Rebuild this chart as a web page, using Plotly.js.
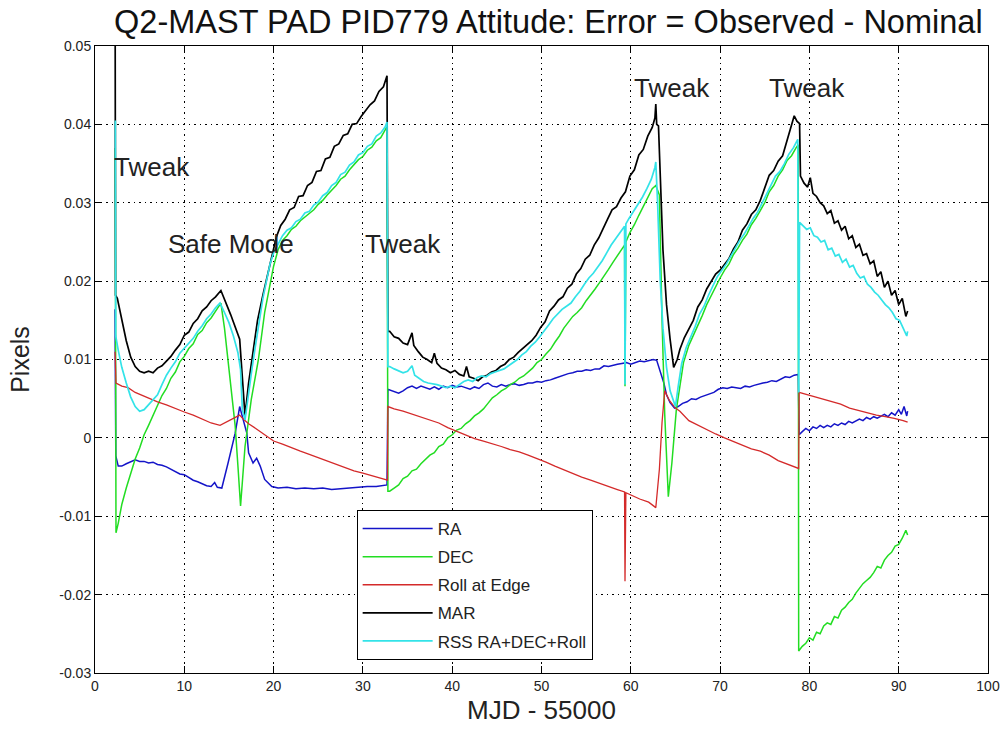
<!DOCTYPE html>
<html>
<head>
<meta charset="utf-8">
<script src="https://cdn.plot.ly/plotly-3.0.1.min.js"></script>
<style>html,body{margin:0;padding:0;background:#fff;}#chart{width:1008px;height:736px;}</style>
</head>
<body>
<div id="chart"></div>
<script>
// ---- data (MJD - 55000, pixels) ----
const seriesNames = ['RA', 'DEC', 'Roll at Edge', 'MAR', 'RSS RA+DEC+Roll'];

const raData = [[2.24,0.0164],[2.33,-0.0023],[2.6,-0.0036],[3.0,-0.0036],[3.5,-0.0033],[4.0,-0.0030],[4.5,-0.0028],[5.0,-0.0030],[5.5,-0.0030],[6.0,-0.0032],[6.5,-0.0031],[7.0,-0.0034],[7.5,-0.0035],[8.0,-0.0037],[8.5,-0.0040],[9.0,-0.0042],[9.5,-0.0046],[10.0,-0.0047],[10.5,-0.0051],[11.0,-0.0054],[11.5,-0.0056],[12.0,-0.0059],[12.5,-0.0061],[13.0,-0.0062],[13.4,-0.0057],[13.7,-0.0063],[14.2,-0.0064],[14.9,-0.0032],[15.7,0.0006],[16.2,0.0040],[16.6,0.0023],[17.0,0.0006],[17.2,-0.0019],[17.7,-0.0032],[18.1,-0.0026],[18.5,-0.0036],[19.0,-0.0053],[19.8,-0.0062],[20.5,-0.0064],[21.5,-0.0063],[22.5,-0.0065],[23.5,-0.0064],[24.5,-0.0065],[25.5,-0.0064],[26.5,-0.0066],[27.5,-0.0065],[28.5,-0.0064],[29.5,-0.0063],[30.5,-0.0062],[31.5,-0.0062],[32.7,-0.0060],[32.8,0.0062],
[33.2,0.0060],[33.6,0.0058],[34.0,0.0057],[34.5,0.0060],[35.0,0.0064],[35.5,0.0066],[36.0,0.0063],[36.5,0.0066],[37.0,0.0064],[37.5,0.0062],[38.0,0.0065],[38.5,0.0062],[39.0,0.0066],[39.5,0.0064],[40.0,0.0067],[40.5,0.0065],[41.0,0.0066],[41.5,0.0064],[42.0,0.0062],[42.5,0.0065],[43.0,0.0063],[43.5,0.0068],[44.0,0.0070],[44.5,0.0066],[45.0,0.0065],[45.5,0.0068],[46.0,0.0066],[46.5,0.0068],[47.0,0.0069],[47.5,0.0067],[48.0,0.0068],[48.5,0.0070],[49.0,0.0070],[49.5,0.0072],[50.0,0.0071],[50.5,0.0073],[51.0,0.0074],[51.5,0.0076],[52.0,0.0078],[52.5,0.0080],[53.0,0.0082],[53.5,0.0083],[54.0,0.0085],[54.5,0.0085],[55.0,0.0087],[55.5,0.0086],[56.0,0.0088],[56.5,0.0088],[57.0,0.0092],[57.5,0.0091],[58.0,0.0093],[58.5,0.0094],[59.0,0.0095],[59.5,0.0096],[60.0,0.0094],[60.5,0.0096],[61.0,0.0098],[61.5,0.0097],[62.0,0.0099],[62.5,0.0100],[62.9,0.0099],[63.3,0.0085],[63.7,0.0070],[64.0,0.0055],[64.4,0.0045],[64.9,0.0038],[65.3,0.0040],[65.8,0.0044],[66.3,0.0046],[66.8,0.0050],[67.3,0.0049],[67.8,0.0052],[68.3,0.0054],[68.8,0.0056],[69.3,0.0058],[69.8,0.0062],[70.3,0.0064],[70.8,0.0063],[71.3,0.0065],[71.8,0.0064],[72.3,0.0063],[72.8,0.0066],[73.3,0.0065],[73.8,0.0067],[74.3,0.0069],[74.8,0.0070],[75.3,0.0071],[75.8,0.0073],[76.3,0.0072],[76.8,0.0075],[77.3,0.0078],[77.8,0.0077],[78.3,0.0080],[78.75,0.0081],[78.85,0.0004],[79.2,0.0008],[79.6,0.0012],[80.0,0.0009],[80.4,0.0014],[80.8,0.0012],[81.2,0.0016],[81.6,0.0013],[82.0,0.0016],[82.4,0.0014],[82.8,0.0018],[83.2,0.0016],[83.6,0.0019],[84.0,0.0017],[84.4,0.0021],[84.8,0.0019],[85.2,0.0022],[85.6,0.0024],[86.0,0.0022],[86.4,0.0026],[86.8,0.0024],[87.2,0.0027],[87.6,0.0025],[88.0,0.0028],[88.4,0.0030],[88.8,0.0027],[89.2,0.0032],[89.6,0.0029],[90.0,0.0036],[90.3,0.0030],[90.6,0.0040],[90.9,0.0028],[91.0,0.0034]];

const decData = [[2.27,0.0370],[2.35,-0.0121],[2.6,-0.0109],[3.0,-0.0085],[3.5,-0.0064],[4.0,-0.0046],[4.5,-0.0027],[5.0,-0.0013],[5.5,0.0004],[6.0,0.0016],[6.5,0.0029],[7.0,0.0041],[7.5,0.0054],[8.0,0.0063],[8.5,0.0076],[9.0,0.0084],[9.5,0.0097],[10.0,0.0104],[10.5,0.0114],[11.0,0.0120],[11.5,0.0132],[12.0,0.0137],[12.5,0.0147],[13.0,0.0153],[13.5,0.0162],[14.1,0.0172],[14.5,0.0140],[14.9,0.0100],[15.3,0.0060],[15.7,0.0015],[16.0,-0.0035],[16.3,-0.0087],[16.8,-0.0011],[17.5,0.0049],[18.3,0.0100],[19.0,0.0160],[20.0,0.0219],[20.5,0.0240],[21.0,0.0252],[21.5,0.0258],[22.0,0.0266],[22.5,0.0270],[23.0,0.0277],[23.5,0.0282],[24.0,0.0287],[24.5,0.0291],[25.0,0.0298],[25.5,0.0303],[26.0,0.0310],[26.5,0.0316],[27.0,0.0322],[27.5,0.0330],[28.0,0.0334],[28.5,0.0342],[29.0,0.0348],[29.5,0.0355],[30.0,0.0359],[30.5,0.0367],[31.0,0.0371],[31.5,0.0379],[32.0,0.0383],[32.5,0.0392],[32.7,0.0397],[32.8,-0.0068],
[33.0,-0.0068],[33.5,-0.0064],[34.0,-0.0060],[34.5,-0.0052],[35.0,-0.0049],[35.5,-0.0042],[36.0,-0.0040],[36.5,-0.0033],[37.0,-0.0028],[37.5,-0.0022],[38.0,-0.0019],[38.5,-0.0011],[39.0,-0.0008],[39.5,0.0000],[40.0,0.0004],[40.5,0.0010],[41.0,0.0012],[41.5,0.0018],[42.0,0.0022],[42.5,0.0028],[43.0,0.0032],[43.5,0.0037],[44.0,0.0044],[44.5,0.0051],[45.0,0.0055],[45.5,0.0060],[46.0,0.0063],[46.5,0.0068],[47.0,0.0071],[47.5,0.0076],[48.0,0.0079],[48.5,0.0084],[49.0,0.0089],[49.5,0.0096],[50.0,0.0100],[50.5,0.0107],[51.0,0.0113],[51.5,0.0122],[52.0,0.0130],[52.5,0.0140],[53.0,0.0148],[53.5,0.0155],[54.0,0.0160],[54.5,0.0166],[55.0,0.0175],[55.5,0.0182],[56.0,0.0190],[56.5,0.0198],[57.0,0.0206],[57.5,0.0215],[58.0,0.0224],[58.5,0.0232],[59.0,0.0240],[59.3,0.0246],[59.35,0.0066],[59.45,0.0250],[59.9,0.0262],[60.4,0.0272],[60.9,0.0284],[61.4,0.0296],[61.9,0.0306],[62.4,0.0318],[62.8,0.0322],[63.2,0.0310],[63.5,0.0150],[63.8,0.0030],[64.2,-0.0075],[64.6,-0.0032],[65.1,0.0036],[65.9,0.0096],[66.5,0.0118],[67.0,0.0130],[67.5,0.0142],[68.0,0.0156],[68.5,0.0170],[69.0,0.0182],[69.5,0.0194],[70.0,0.0204],[70.5,0.0214],[71.0,0.0222],[71.5,0.0234],[72.0,0.0242],[72.5,0.0252],[73.0,0.0260],[73.5,0.0272],[74.0,0.0280],[74.5,0.0290],[75.0,0.0300],[75.5,0.0314],[76.0,0.0322],[76.5,0.0334],[77.0,0.0342],[77.5,0.0354],[78.0,0.0360],[78.5,0.0370],[78.75,0.0374],[78.8,-0.0272],[79.2,-0.0266],[79.6,-0.0262],[80.0,-0.0255],[80.4,-0.0258],[80.8,-0.0248],[81.2,-0.0250],[81.6,-0.0240],[82.0,-0.0236],[82.4,-0.0238],[82.8,-0.0228],[83.2,-0.0230],[83.6,-0.0220],[84.0,-0.0216],[84.4,-0.0210],[84.8,-0.0206],[85.2,-0.0198],[85.6,-0.0192],[86.0,-0.0186],[86.4,-0.0182],[86.8,-0.0178],[87.2,-0.0172],[87.6,-0.0164],[88.0,-0.0166],[88.4,-0.0156],[88.8,-0.0150],[89.2,-0.0146],[89.6,-0.0138],[90.0,-0.0136],[90.4,-0.0128],[90.8,-0.0118],[91.0,-0.0124]];

const rollData = [[2.25,0.0110],[2.35,0.0070],[3.0,0.0066],[3.7,0.0064],[4.5,0.0058],[5.5,0.0053],[6.3,0.0049],[7.0,0.0046],[8.0,0.0042],[9.0,0.0038],[10.0,0.0033],[11.0,0.0029],[12.0,0.0024],[13.0,0.0019],[14.0,0.0016],[14.9,0.0021],[15.6,0.0025],[16.2,0.0029],[16.6,0.0024],[17.2,0.0018],[18.0,0.0012],[19.0,0.0004],[20.0,-0.0004],[21.0,-0.0008],[22.0,-0.0013],[23.0,-0.0017],[24.0,-0.0021],[25.0,-0.0025],[26.0,-0.0030],[27.0,-0.0034],[28.0,-0.0038],[29.0,-0.0042],[30.0,-0.0045],[31.0,-0.0048],[32.0,-0.0051],[32.75,-0.0054],[32.8,0.0040],[33.5,0.0037],[34.5,0.0034],[35.5,0.0030],[36.5,0.0027],[37.5,0.0023],[38.5,0.0019],[39.5,0.0013],[40.5,0.0008],[41.5,0.0004],[42.5,-0.0001],[43.5,-0.0004],[44.5,-0.0008],[45.5,-0.0011],[46.5,-0.0015],[47.5,-0.0018],[48.5,-0.0022],[49.5,-0.0026],[50.5,-0.0031],[51.5,-0.0036],[52.5,-0.0041],[53.5,-0.0046],[54.5,-0.0050],[55.5,-0.0054],[56.5,-0.0058],[57.5,-0.0063],[58.5,-0.0066],[59.3,-0.0069],[59.35,-0.0183],[59.45,-0.0070],[60.0,-0.0073],[61.0,-0.0078],[62.0,-0.0082],[62.8,-0.0089],[63.2,-0.0040],[63.5,0.0020],[63.8,0.0060],[64.3,0.0048],[65.0,0.0038],[65.5,0.0034],[66.5,0.0022],[67.5,0.0016],[68.5,0.0011],[69.5,0.0005],[70.5,0.0000],[71.5,-0.0005],[72.5,-0.0010],[73.5,-0.0014],[74.5,-0.0017],[75.5,-0.0022],[76.5,-0.0029],[77.5,-0.0033],[78.5,-0.0037],[78.8,-0.0039],[78.85,0.0058],[79.5,0.0056],[80.5,0.0053],[81.5,0.0049],[82.5,0.0046],[83.5,0.0043],[84.5,0.0038],[85.5,0.0035],[86.5,0.0032],[87.5,0.0029],[88.5,0.0027],[89.5,0.0025],[90.5,0.0022],[91.0,0.0020]];

const marData = [[2.25,0.060],[2.3,0.0182],[2.5,0.0178],[3.0,0.0152],[3.5,0.0124],[4.0,0.0103],[4.5,0.0091],[5.0,0.0085],[5.5,0.0083],[6.0,0.0085],[6.5,0.0083],[7.0,0.0089],[7.5,0.0092],[8.0,0.0098],[8.5,0.0104],[9.0,0.0112],[9.5,0.0119],[10.0,0.0131],[10.5,0.0135],[11.0,0.0146],[11.5,0.0152],[12.0,0.0162],[12.5,0.0167],[13.0,0.0175],[13.5,0.0180],[14.1,0.0188],[15.2,0.0157],[16.2,0.0126],[16.5,0.0070],[16.8,0.0028],[17.2,0.0070],[17.7,0.0110],[18.2,0.0150],[18.8,0.0182],[19.3,0.0208],[19.8,0.0232],[20.3,0.0256],[20.8,0.0271],[21.3,0.0279],[21.8,0.0291],[22.3,0.0294],[22.8,0.0308],[23.3,0.0309],[23.8,0.0322],[24.3,0.0326],[24.8,0.0340],[25.3,0.0341],[25.8,0.0356],[26.3,0.0358],[26.8,0.0372],[27.3,0.0375],[27.8,0.0386],[28.3,0.0388],[28.8,0.0400],[29.3,0.0401],[29.8,0.0410],[30.3,0.0418],[30.8,0.0425],[31.3,0.0430],[31.8,0.0442],[32.3,0.0448],[32.7,0.0462],[32.8,0.0136],
[33.0,0.0136],[33.5,0.0129],[34.0,0.0127],[34.5,0.0121],[35.0,0.0119],[35.5,0.0134],[35.7,0.0118],[36.2,0.0110],[36.7,0.0103],[37.2,0.0100],[37.7,0.0096],[38.0,0.0108],[38.3,0.0095],[38.8,0.0089],[39.3,0.0087],[39.8,0.0083],[40.3,0.0086],[40.8,0.0081],[41.3,0.0079],[41.6,0.0091],[41.9,0.0078],[42.4,0.0076],[42.9,0.0073],[43.4,0.0078],[43.9,0.0080],[44.4,0.0084],[44.9,0.0086],[45.4,0.0091],[45.9,0.0094],[46.4,0.0100],[46.9,0.0103],[47.4,0.0109],[47.9,0.0114],[48.4,0.0120],[48.9,0.0124],[49.4,0.0131],[49.9,0.0141],[50.4,0.0148],[50.9,0.0162],[51.4,0.0168],[51.9,0.0176],[52.4,0.0180],[52.9,0.0191],[53.4,0.0196],[53.9,0.0209],[54.4,0.0216],[54.9,0.0228],[55.4,0.0233],[55.9,0.0246],[56.4,0.0255],[56.9,0.0268],[57.4,0.0279],[57.9,0.0291],[58.4,0.0295],[58.9,0.0306],[59.4,0.0314],[59.9,0.0334],[60.4,0.0342],[60.9,0.0361],[61.4,0.0368],[61.9,0.0385],[62.4,0.0396],[62.7,0.0408],[62.8,0.0426],[62.9,0.0400],[63.1,0.0398],[63.6,0.0240],[64.0,0.0170],[64.4,0.0126],[64.8,0.0090],[65.2,0.0100],[65.5,0.0113],[66.0,0.0128],[66.5,0.0139],[67.0,0.0150],[67.5,0.0167],[68.0,0.0176],[68.5,0.0190],[69.0,0.0200],[69.5,0.0209],[70.0,0.0214],[70.5,0.0221],[71.0,0.0229],[71.5,0.0241],[72.0,0.0250],[72.5,0.0265],[73.0,0.0273],[73.5,0.0285],[74.0,0.0291],[74.5,0.0303],[75.0,0.0318],[75.5,0.0335],[76.0,0.0341],[76.5,0.0353],[77.0,0.0360],[77.5,0.0379],[77.9,0.0393],[78.3,0.0411],[78.6,0.0404],[78.9,0.0401],[79.0,0.0334],[79.4,0.0325],[79.8,0.0320],[80.1,0.0332],[80.4,0.0312],[80.8,0.0308],[81.2,0.0300],[81.6,0.0296],[82.0,0.0286],[82.4,0.0290],[82.8,0.0274],[83.2,0.0277],[83.6,0.0265],[84.0,0.0270],[84.4,0.0254],[84.8,0.0258],[85.2,0.0243],[85.6,0.0247],[86.0,0.0233],[86.4,0.0235],[86.8,0.0222],[87.2,0.0226],[87.6,0.0206],[88.0,0.0212],[88.4,0.0192],[88.8,0.0200],[89.2,0.0182],[89.6,0.0188],[90.0,0.0170],[90.4,0.0178],[90.8,0.0155],[91.0,0.0162]];

const rssData = [[2.28,0.0405],[2.32,0.0130],[2.6,0.0112],[3.0,0.0090],[3.5,0.0070],[4.0,0.0052],[4.5,0.0040],[5.0,0.0034],[5.5,0.0036],[6.0,0.0042],[6.5,0.0048],[7.0,0.0055],[7.5,0.0068],[8.0,0.0080],[8.5,0.0089],[9.0,0.0097],[9.5,0.0108],[10.0,0.0114],[10.5,0.0121],[11.0,0.0127],[11.5,0.0136],[12.0,0.0143],[12.5,0.0152],[13.0,0.0158],[13.5,0.0166],[14.0,0.0172],[14.5,0.0160],[15.0,0.0147],[15.5,0.0130],[16.0,0.0109],[16.3,0.0087],[16.5,0.0036],[16.8,0.0023],[17.2,0.0060],[17.6,0.0090],[18.0,0.0120],[18.4,0.0150],[18.8,0.0178],[19.2,0.0200],[19.6,0.0222],[20.0,0.0236],[20.5,0.0248],[21.0,0.0258],[21.5,0.0265],[22.0,0.0268],[22.5,0.0276],[23.0,0.0279],[23.5,0.0287],[24.0,0.0289],[24.5,0.0297],[25.0,0.0301],[25.5,0.0309],[26.0,0.0313],[26.5,0.0322],[27.0,0.0326],[27.5,0.0336],[28.0,0.0339],[28.5,0.0348],[29.0,0.0352],[29.5,0.0361],[30.0,0.0364],[30.5,0.0372],[31.0,0.0375],[31.5,0.0385],[32.0,0.0389],[32.5,0.0397],[32.7,0.0403],[32.8,0.0091],
[33.0,0.0091],[33.5,0.0088],[34.0,0.0086],[34.5,0.0083],[35.0,0.0085],[35.5,0.0092],[35.8,0.0080],[36.3,0.0076],[36.8,0.0072],[37.3,0.0070],[37.8,0.0069],[38.3,0.0068],[38.8,0.0066],[39.3,0.0064],[39.8,0.0066],[40.3,0.0064],[40.8,0.0068],[41.3,0.0072],[41.8,0.0074],[42.3,0.0072],[42.8,0.0077],[43.3,0.0079],[43.8,0.0078],[44.3,0.0082],[44.8,0.0084],[45.3,0.0086],[45.8,0.0088],[46.3,0.0092],[46.8,0.0096],[47.3,0.0100],[47.8,0.0106],[48.3,0.0110],[48.8,0.0117],[49.3,0.0122],[49.8,0.0129],[50.3,0.0136],[50.8,0.0144],[51.3,0.0152],[51.8,0.0158],[52.3,0.0164],[52.8,0.0168],[53.3,0.0172],[53.8,0.0180],[54.3,0.0187],[54.8,0.0196],[55.3,0.0204],[55.8,0.0210],[56.3,0.0218],[56.8,0.0226],[57.3,0.0236],[57.8,0.0246],[58.3,0.0254],[58.8,0.0262],[59.3,0.0270],[59.35,0.0068],[59.45,0.0273],[59.8,0.0280],[60.3,0.0289],[60.8,0.0298],[61.3,0.0307],[61.8,0.0318],[62.3,0.0330],[62.7,0.0345],[62.8,0.0352],[63.0,0.0300],[63.3,0.0200],[63.6,0.0140],[64.0,0.0090],[64.4,0.0060],[64.8,0.0045],[65.0,0.0040],[65.3,0.0065],[65.7,0.0095],[66.2,0.0115],[66.7,0.0128],[67.2,0.0142],[67.7,0.0158],[68.2,0.0168],[68.7,0.0182],[69.2,0.0194],[69.7,0.0206],[70.2,0.0214],[70.7,0.0222],[71.2,0.0232],[71.7,0.0242],[72.2,0.0252],[72.7,0.0260],[73.2,0.0270],[73.7,0.0280],[74.2,0.0288],[74.7,0.0300],[75.2,0.0310],[75.7,0.0322],[76.2,0.0334],[76.7,0.0340],[77.2,0.0350],[77.7,0.0362],[78.2,0.0370],[78.7,0.0381],[78.8,0.0058],[78.9,0.0275],[79.3,0.0270],[79.7,0.0266],[80.1,0.0268],[80.5,0.0258],[80.9,0.0256],[81.3,0.0250],[81.7,0.0252],[82.1,0.0240],[82.5,0.0242],[82.9,0.0232],[83.3,0.0234],[83.7,0.0224],[84.1,0.0228],[84.5,0.0218],[84.9,0.0220],[85.3,0.0210],[85.7,0.0204],[86.1,0.0206],[86.5,0.0196],[86.9,0.0192],[87.3,0.0186],[87.7,0.0182],[88.1,0.0176],[88.5,0.0170],[88.9,0.0166],[89.3,0.0160],[89.7,0.0152],[90.1,0.0150],[90.5,0.0140],[90.9,0.0130],[91.0,0.0136]];

const xTickVals = [0, 10, 20, 30, 40, 50, 60, 70, 80, 90, 100];
const yTickVals = [-0.03, -0.02, -0.01, 0, 0.01, 0.02, 0.03, 0.04, 0.05];
const yTickText = ['-0.03', '-0.02', '-0.01', '0', '0.01', '0.02', '0.03', '0.04', '0.05'];

const noteTexts = ['Tweak', 'Safe Mode', 'Tweak', 'Tweak', 'Tweak'];
const noteX = [1.9, 7.95, 30.0, 60.1, 75.2];
const noteY = [0.0346, 0.0247, 0.0247, 0.0447, 0.0447];

// ---- drawing ----
const FONT = 'Liberation Sans, Arial, Helvetica, sans-serif';
const colors = ['#1414c8', '#22dd22', '#d42a2a', '#000000', '#33e3e8'];
const widths = [1.5, 1.5, 1.3, 1.7, 1.7];
const allData = [raData, decData, rollData, marData, rssData];

const traces = allData.map((d, i) => ({
  type: 'scatter',
  mode: 'lines',
  name: seriesNames[i],
  legendgroup: 'g' + i,
  x: d.map(p => p[0]),
  y: d.map(p => p[1]),
  line: {color: colors[i], width: widths[i]},
  hoverinfo: 'skip'
}));

const axisCommon = {
  showline: true, linecolor: '#000', linewidth: 1, mirror: 'ticks',
  ticks: 'inside', ticklen: 7, tickcolor: '#000', tickwidth: 1,
  showgrid: true, gridcolor: '#000', gridwidth: 1, griddash: '1.5px,4px',
  zeroline: false,
  tickfont: {family: FONT, size: 14, color: '#222'}
};

const layout = {
  width: 1008, height: 736,
  paper_bgcolor: '#fff', plot_bgcolor: '#fff',
  margin: {l: 95, r: 20, t: 46, b: 63},
  showlegend: true,
  title: {
    text: 'Q2-MAST PAD PID779 Attitude: Error = Observed - Nominal',
    font: {family: FONT, size: 32.5, color: '#111'},
    x: 0.544, xref: 'container', xanchor: 'center',
    y: 0.970, yref: 'container', yanchor: 'middle'
  },
  xaxis: Object.assign({}, axisCommon, {
    range: [0, 100], tickvals: xTickVals,
    title: {text: 'MJD - 55000', font: {family: FONT, size: 26, color: '#222'}, standoff: 8}
  }),
  yaxis: Object.assign({}, axisCommon, {
    range: [-0.03, 0.05], tickvals: yTickVals, ticktext: yTickText,
    title: {text: 'Pixels', font: {family: FONT, size: 25, color: '#222'}, standoff: 22}
  }),
  legend: {
    x: 0.293, y: 0.260, xanchor: 'left', yanchor: 'top',
    bgcolor: '#fff', bordercolor: '#000', borderwidth: 1,
    font: {family: FONT, size: 17, color: '#222'},
    tracegroupgap: 3, itemwidth: 70
  },
  annotations: noteTexts.map((t, i) => ({
    x: noteX[i], y: noteY[i], xref: 'x', yref: 'y',
    text: t, showarrow: false, xanchor: 'left', yanchor: 'middle',
    font: {family: FONT, size: 26, color: '#222'}
  }))
};

Plotly.newPlot('chart', traces, layout, {displayModeBar: false, staticPlot: true});
</script>
</body>
</html>
